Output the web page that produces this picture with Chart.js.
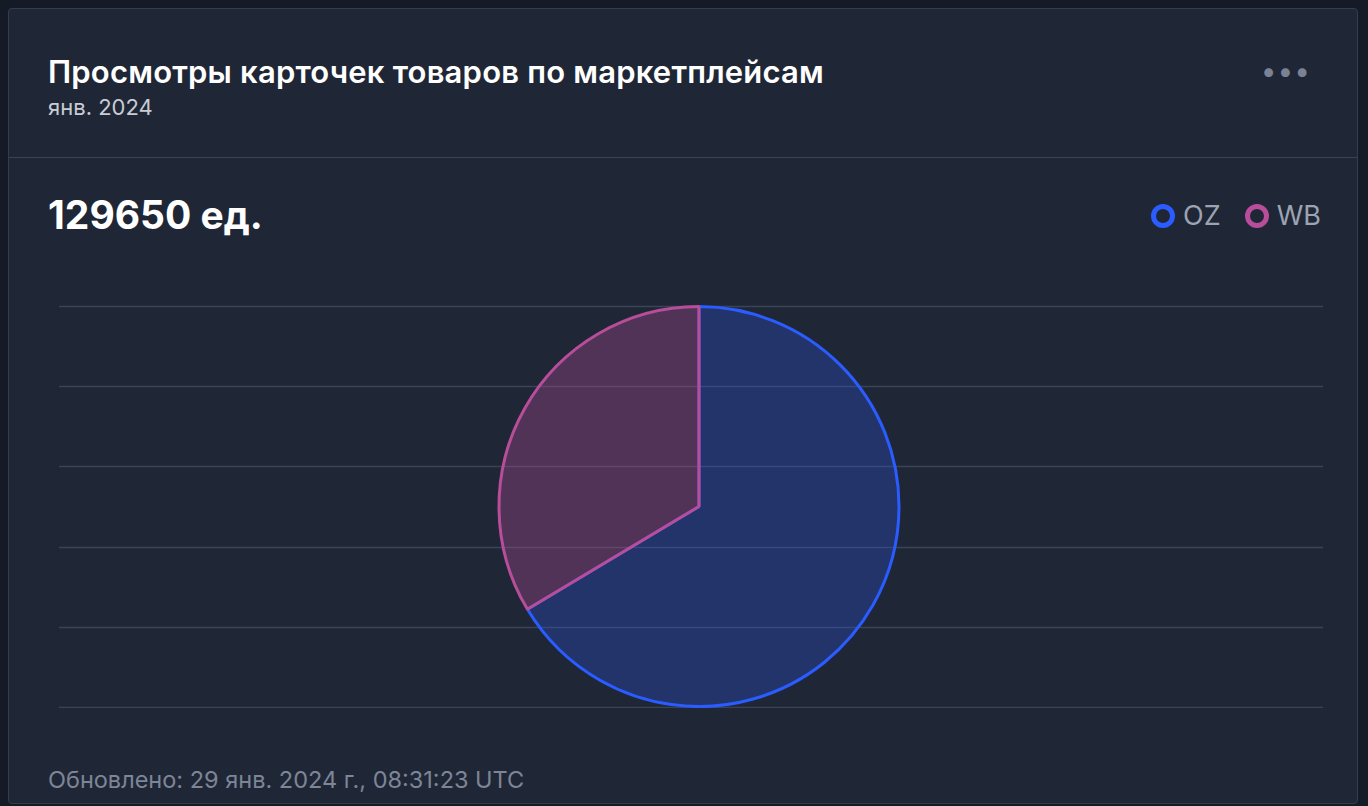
<!DOCTYPE html>
<html><head><meta charset="utf-8">
<script src="https://cdn.jsdelivr.net/npm/chart.js@4"></script>
<style>
body{margin:0;background:#141a26;font-family:Inter,"Noto Sans",sans-serif;width:1368px;height:806px;overflow:hidden}
.card{position:absolute;left:8px;top:8px;width:1350px;height:796px;background:#1f2737;border:1px solid #343d4e;border-radius:4px;box-sizing:border-box}
.title{position:absolute;left:39px;top:44px;color:#fff;font-size:31px;font-weight:600;letter-spacing:0.2px}
.sub{position:absolute;left:39px;top:85px;color:#c8ccd4;font-size:22px}
.dots{position:absolute;right:46px;top:52px;color:#7a8294;font-size:28px;letter-spacing:1px;line-height:20px}
.sep{position:absolute;left:0;right:0;top:148px;height:1px;background:#3a4455}
.total{position:absolute;left:39px;top:182px;color:#fff;font-size:39px;font-weight:700}
.legend{position:absolute;right:36px;top:190px;display:flex;gap:24px;color:#9ca3b2;font-size:27px}
.legend span{display:flex;align-items:center;gap:8px}
.legend i{display:inline-block;width:14px;height:14px;border-radius:50%;border:5px solid}
.upd{position:absolute;left:39px;top:756px;color:#7d8596;font-size:23.5px}
#wrap{position:absolute;left:50px;top:296px;width:1264px;height:403px}
</style></head><body>
<div class="card">
<div class="title">Просмотры карточек товаров по маркетплейсам</div>
<div class="sub">янв. 2024</div>
<div class="dots">•••</div>
<div class="sep"></div>
<div class="total" id="total"></div>
<div class="legend" id="legend"></div>
<div class="upd">Обновлено: 29 янв. 2024 г., 08:31:23 UTC</div>
<div id="wrap"><canvas id="c"></canvas></div>
</div>
<script>
const categories = ["OZ","WB"];
const values = [86100, 43550];
const borderColors = ["#2a5cff","#b84d9a"];
const fillColors = ["rgba(42,92,255,0.25)","rgba(184,77,154,0.32)"];
document.getElementById('total').textContent = values.reduce((a,b)=>a+b,0) + " ед.";
document.getElementById('legend').innerHTML = categories.map((c,i)=>`<span><i style="border-color:${borderColors[i]}"></i>${c}</span>`).join('');
const grid = {id:'grid',beforeDatasetsDraw(ch){const a=ch.chartArea,ctx=ch.ctx;ctx.save();ctx.strokeStyle='#3a4455';ctx.lineWidth=1.5;
const top=a.top+1,bot=a.bottom-1;
for(let i=0;i<=5;i++){const y=Math.round(top+i*(bot-top)/5)+0.5;ctx.beginPath();ctx.moveTo(0,y);ctx.lineTo(ch.width,y);ctx.stroke();}ctx.restore();}};
new Chart(document.getElementById('c'),{type:'pie',
data:{labels:categories,datasets:[{data:values,backgroundColor:fillColors,borderColor:borderColors,borderWidth:3}]},
options:{responsive:true,maintainAspectRatio:false,animation:false,layout:{padding:{left:16,right:0,top:0,bottom:0}},
plugins:{legend:{display:false},tooltip:{enabled:false}}},plugins:[grid]});
</script></body></html>
